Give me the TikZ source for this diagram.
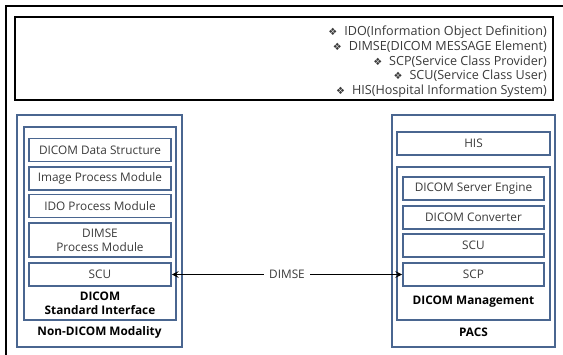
\documentclass[tikz,border=0pt]{standalone}
\usepackage{fontspec}
\usepackage{tikz}
\usetikzlibrary{arrows.meta}
\setmainfont{Open Sans}
\newfontfamily\symfont{DejaVu Sans}
\definecolor{framegray}{HTML}{4A6690}
\definecolor{textgray}{HTML}{3A3A3A}
\newcommand{\legbullet}{{\symfont\fontsize{10}{10}\selectfont ❖}\hspace{7pt}}
\begin{document}
\begin{tikzpicture}[x=1pt,y=-1pt,
      frame/.style={rectangle,draw=framegray,line width=1.7pt,inner sep=0pt},
      module/.style={frame,minimum height=23pt,align=center,
                     font=\fontsize{11.8}{14}\selectfont,text=textgray},
      title/.style={align=center,font=\bfseries\fontsize{11.8}{14}\selectfont},
      arr/.style={{Stealth[length=7pt,width=7pt,inset=3pt]}-{Stealth[length=7pt,width=7pt,inset=3pt]},line width=1.2pt}]
    \useasboundingbox (0,0) rectangle (563,355);
    %% ── Outer frame and legend ───────────────────────────────
    \draw[line width=1.4pt] (6,355) -- (6,6) -- (563,6);
    \draw[line width=1.8pt] (15,17) rectangle (553,100);
    \node[anchor=north east,align=right,inner sep=0pt,text=textgray,
          font=\fontsize{12.6}{14.6}\selectfont] (legend) at (547,26)
      {\legbullet IDO(Information Object Definition)\\
       \legbullet DIMSE(DICOM MESSAGE Element)\\
       \legbullet SCP(Service Class Provider)\\
       \legbullet SCU(Service Class User)\\
       \legbullet HIS(Hospital Information System)};
    %% ── Left column: Non-DICOM modality ─────────────────────
    \node[frame,minimum width=165pt,minimum height=232pt] (modality) at (99.5,231) {};
    \node[frame,minimum width=152pt,minimum height=193pt] (iface)    at (100,223.5) {};
    \node[module,minimum width=142pt]                      (data)   at (100,150) {DICOM Data Structure};
    \node[module,minimum width=142pt]                      (image)  at (100,178.5) {Image Process Module};
    \node[module,minimum width=142pt]                      (ido)    at (100,206) {IDO Process Module};
    \node[module,minimum width=142pt,minimum height=34pt]  (dimse)  at (100,240) {DIMSE\\Process Module};
    \node[module,minimum width=142pt]                      (lscu)   at (100,274.5) {SCU};
    \node[title] (ifacelbl) at (100,303) {DICOM\\Standard Interface};
    \node[title] (modlbl)   at (99.5,332) {Non-DICOM Modality};
    %% ── Right column: PACS ───────────────────────────────────
    \node[frame,minimum width=163pt,minimum height=232pt] (pacs) at (473.5,231) {};
    \node[module,minimum width=153pt]                     (his)  at (473.5,143.5) {HIS};
    \node[frame,minimum width=153pt,minimum height=153pt] (mgmt) at (473.5,243.5) {};
    \node[module,minimum width=141pt] (engine) at (473.5,188.5) {DICOM Server Engine};
    \node[module,minimum width=141pt] (conv)   at (473.5,217.5) {DICOM Converter};
    \node[module,minimum width=141pt] (rscu)   at (473.5,245.5) {SCU};
    \node[module,minimum width=141pt] (rscp)   at (473.5,274.5) {SCP};
    \node[title] (mgmtlbl) at (473.5,302) {DICOM Management};
    \node[title] (pacslbl) at (473.5,332) {PACS};
    %% ── DIMSE link ───────────────────────────────────────────
    \draw[arr] (lscu.east) -- node[fill=white,inner sep=5pt,text=textgray,
                 font=\fontsize{11.8}{14}\selectfont] (dimselbl) {DIMSE} (rscp.west);
\end{tikzpicture}
\end{document}
